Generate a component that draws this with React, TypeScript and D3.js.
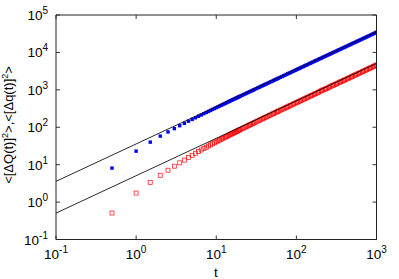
import React from 'react';
import * as d3 from 'd3';

// time axis (shared by both series)
const times = [
  0.5, 1, 1.5, 2, 2.5, 3, 3.5, 4, 4.5, 5, 5.5, 6, 6.5, 7, 7.5, 8, 8.5, 9, 9.5, 10,
  10.5, 11, 11.5, 12, 12.5, 13, 13.5, 14, 14.5, 15, 15.5, 16, 16.5, 17, 17.5, 18, 18.5, 19, 19.5,
  20, 21, 22, 23, 24, 25, 26, 27, 28, 29, 30, 31.5, 33, 34.5, 36, 37.5, 39, 40.5, 42,
  44, 46, 48, 50, 52, 54, 56, 58, 60, 63, 66, 69, 72, 75, 78, 81, 84,
  88, 92, 96, 100, 104, 108, 112, 117, 122, 127, 132, 137, 143, 149, 155, 161,
  168, 175, 182, 189, 197, 205, 213, 222, 231, 240, 250, 260, 270,
  281, 292, 304, 316, 329, 342, 356, 370, 385, 400, 416, 433, 450, 468, 487, 506, 526, 547,
  569, 592, 616, 641, 667, 694, 722, 751, 781, 812, 845, 879, 914, 951, 989, 1000,
];

// <[dQ(t)]^2>  (blue, filled squares)
const bigQ = [
  8.1, 23, 40, 58, 75, 92, 110, 127, 145, 162, 179, 196, 213, 231, 248, 265, 282, 300, 317, 334,
  351, 369, 386, 403, 420, 438, 455, 472, 489, 507, 524, 541, 558, 576, 593, 610, 627, 645, 662,
  679, 714, 748, 783, 817, 852, 886, 921, 955, 990, 1024, 1076, 1128, 1179, 1231, 1283, 1335, 1386, 1438,
  1507, 1576, 1645, 1714, 1783, 1852, 1921, 1990, 2059, 2163, 2266, 2370, 2473, 2577, 2680, 2784, 2887,
  3025, 3163, 3301, 3439, 3577, 3715, 3853, 4026, 4198, 4371, 4543, 4716, 4923, 5130, 5337, 5544,
  5785, 6027, 6268, 6510, 6786, 7062, 7338, 7648, 7959, 8269, 8614, 8959, 9304,
  9684, 10063, 10477, 10891, 11340, 11788, 12271, 12754, 13272, 13789, 14341, 14928, 15514, 16135, 16791, 17446, 18136, 18861,
  19620, 20413, 21241, 22104, 23001, 23932, 24898, 25900, 26935, 28003, 29142, 30315, 31522, 32799, 34110, 34489,
];

// <[dq(t)]^2>  (red, open squares)
const smallQ = [
  0.51, 1.74, 3.37, 5.2, 7.1, 9.1, 11.2, 13.2, 15.5, 17.8, 20.1, 22.4, 24.7, 27, 29.3, 31.6, 33.9, 36.2, 38.5, 40.8,
  43.1, 45.4, 47.7, 50, 52.3, 54.6, 56.9, 59.2, 61.5, 63.8, 66.1, 68.4, 70.7, 73, 75.3, 77.6, 79.9, 82.2, 84.5,
  86.8, 91.4, 96, 100.6, 105.2, 109.8, 114.4, 119, 123.6, 128.2, 132.8, 139.7, 146.6, 153.5, 160.4, 167.3, 174.2, 181.1, 188,
  197.2, 206.4, 215.6, 224.8, 234, 243.2, 252.4, 261.6, 270.8, 284.6, 298.4, 312.2, 326, 339.8, 353.6, 367.4, 381.2,
  399.6, 418, 436.4, 454.8, 473.2, 491.6, 510, 533, 556, 579, 602, 625, 652.6, 680, 708, 735,
  767.6, 800, 832, 864, 915, 948, 985, 1030, 1057, 1090, 1138, 1198, 1248,
  1295, 1340, 1390, 1440, 1508, 1575, 1640, 1697, 1760, 1835, 1908, 1987, 2065, 2148, 2235, 2322, 2414, 2511,
  2612, 2718, 2828, 2943, 3063, 3187, 3316, 3449, 3587, 3730, 3882, 4038, 4199, 4369, 4544, 4595,
];

// reference lines  y = c * t
const lineCoefs = [35.8, 5.07];
const lineSpan = [0.1, 1000];

const xExps = [-1, 0, 1, 2, 3];
const yExps = [-1, 0, 1, 2, 3, 4, 5];

const W = 399;
const H = 279;
const font = '"Liberation Sans", Arial, Helvetica, sans-serif';

export default function App() {
  const x = d3.scaleLog().domain([0.1, 1000]).range([56, 376.5]);
  const y = d3.scaleLog().domain([0.1, 1e5]).range([239.5, 15]);
  const [x0, x1] = x.range();
  const [y0, y1] = y.range();

  const refLine = (c: number) =>
    d3
      .line<number>()
      .x((t) => x(t))
      .y((t) => y(c * t))(lineSpan) || '';

  return (
    <svg
      width={W}
      height={H}
      style={{ position: 'absolute', left: 0, top: 0, background: '#fff' }}
      fontFamily={font}
    >
      <defs>
        <clipPath id="plot">
          <rect x={x0} y={y1} width={x1 - x0} height={y0 - y1} />
        </clipPath>
      </defs>

      <g clipPath="url(#plot)">
        {times.map((t, i) => (
          <rect
            key={'b' + i}
            x={x(t) - 1.7}
            y={y(bigQ[i]) - 1.7}
            width={3.4}
            height={3.4}
            fill="#0000ff"
          />
        ))}
        {times.map((t, i) => (
          <rect
            key={'r' + i}
            x={x(t) - 2}
            y={y(smallQ[i]) - 2}
            width={4}
            height={4}
            fill="none"
            stroke="#ff0000"
            strokeOpacity={0.85}
            strokeWidth={0.8}
          />
        ))}
        {lineCoefs.map((c, i) => (
          <path key={'l' + i} d={refLine(c)} fill="none" stroke="#111" strokeWidth={0.9} />
        ))}
      </g>

      {/* ticks, mirrored on all sides */}
      <g stroke="#333" strokeWidth={1}>
        {xExps.map((e) => {
          const px = x(Math.pow(10, e));
          return (
            <g key={'xt' + e}>
              <line x1={px} x2={px} y1={y0} y2={y0 - 4} />
              <line x1={px} x2={px} y1={y1} y2={y1 + 4} />
            </g>
          );
        })}
        {yExps.map((e) => {
          const py = y(Math.pow(10, e));
          return (
            <g key={'yt' + e}>
              <line x1={x0} x2={x0 + 4} y1={py} y2={py} />
              <line x1={x1} x2={x1 - 4} y1={py} y2={py} />
            </g>
          );
        })}
      </g>

      {/* frame */}
      <g stroke="#222" strokeWidth={1} fill="none">
        <line x1={x0} x2={x0} y1={y1} y2={y0} />
        <line x1={x0} x2={x1} y1={y1} y2={y1} />
        <line x1={x1} x2={x1} y1={y1} y2={y0} />
        <line x1={x0} x2={x1} y1={y0} y2={y0} />
      </g>

      {/* tick labels */}
      {xExps.map((e) => (
        <text
          key={'xl' + e}
          x={x(Math.pow(10, e))}
          y={259}
          textAnchor="middle"
          fontSize={13.5}
          fill="#000"
        >
          10
          <tspan dy={-6} fontSize={10}>
            {e}
          </tspan>
        </text>
      ))}
      {yExps.map((e) => (
        <text
          key={'yl' + e}
          x={48}
          y={y(Math.pow(10, e)) + 5}
          textAnchor="end"
          fontSize={13.5}
          fill="#000"
        >
          10
          <tspan dy={-6} fontSize={10}>
            {e}
          </tspan>
        </text>
      ))}

      {/* axis titles */}
      <text x={216} y={277} textAnchor="middle" fontSize={13.5} fill="#000">
        t
      </text>
      <text
        transform="translate(13,125) rotate(-90)"
        textAnchor="middle"
        fontSize={13}
        fill="#000"
      >
        {'<[ΔQ(t)]'}
        <tspan dy={-5} fontSize={9}>
          2
        </tspan>
        <tspan dy={5}>{'>,<[Δq(t)]'}</tspan>
        <tspan dy={-5} fontSize={9}>
          2
        </tspan>
        <tspan dy={5}>{'>'}</tspan>
      </text>
    </svg>
  );
}
